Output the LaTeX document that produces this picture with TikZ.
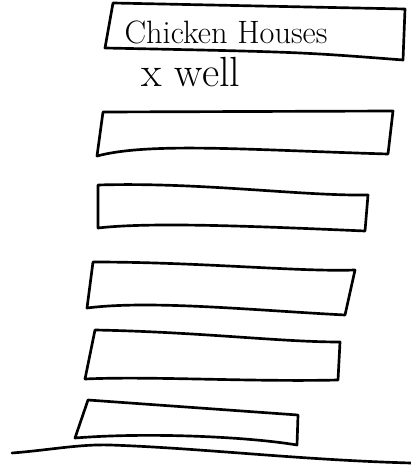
\documentclass[tikz,border=0pt]{standalone}
\usetikzlibrary{positioning}
\begin{document}
\begin{tikzpicture}[x=0.025cm, y=-0.025cm, line width=1.9pt, line join=round, line cap=round,
    every node/.style={align=center, font=\fontsize{23}{27}\selectfont}]
    \useasboundingbox (0,0) rectangle (411,465);

    % Title box
    \draw (113,3) -- (405,9) -- (403,60) .. controls (300,52) .. (105,48) -- cycle;
    \node (title) at (226,32) {Chicken Houses};
    \node[font=\fontsize{30}{33}\selectfont] (well) at (191,72) {x well};

    % Houses
    \draw (103,112) -- (393,111) -- (388,154) .. controls (250,150) and (150,142) .. (97,156) -- cycle;
    \draw (98,185) .. controls (200,182) and (300,196) .. (368,195) -- (365,231) .. controls (250,226) and (150,222) .. (98,228) -- cycle;
    \draw (93,262) .. controls (200,262) and (300,272) .. (355,270) -- (345,315) .. controls (250,310) and (150,300) .. (87,308) -- cycle;
    \draw (95,330) .. controls (200,332) and (280,342) .. (340,342) -- (338,380) .. controls (250,382) and (150,376) .. (85,379) -- cycle;
    \draw (88,400) -- (298,415) -- (297,445) .. controls (250,437) and (150,432) .. (75,438) -- cycle;

    % Ground
    \draw (12,453) .. controls (50,450) and (80,444) .. (110,445) .. controls (200,448) and (300,460) .. (411,463);
\end{tikzpicture}
\end{document}
